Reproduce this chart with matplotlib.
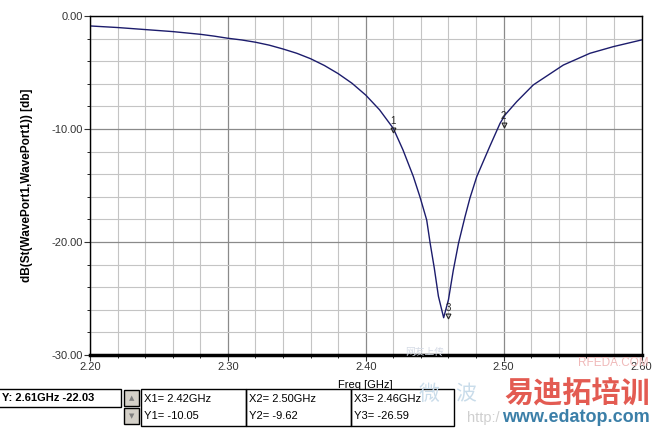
import matplotlib
matplotlib.use("Agg")
import matplotlib.pyplot as plt
from matplotlib.patches import Rectangle
from matplotlib.ticker import MultipleLocator, FormatStrFormatter

plt.rcParams['font.family'] = ['Liberation Sans', 'Noto Sans CJK SC', 'DejaVu Sans']

# S11 curve
freq = [2.20, 2.22, 2.24, 2.26, 2.28, 2.29, 2.30, 2.31, 2.32, 2.33, 2.34, 2.35,
        2.36, 2.37, 2.38, 2.39, 2.40, 2.41, 2.42, 2.427, 2.4345, 2.4393, 2.4442,
        2.4467, 2.4497, 2.4527, 2.4565, 2.460, 2.4635, 2.4673, 2.472, 2.4756,
        2.4805, 2.4855, 2.4901, 2.4974, 2.501, 2.5095, 2.5215, 2.5433, 2.5626,
        2.5796, 2.60]
s11_db = [-0.88, -1.02, -1.20, -1.38, -1.62, -1.78, -1.97, -2.12, -2.32, -2.58,
          -2.92, -3.30, -3.78, -4.38, -5.10, -5.95, -7.00, -8.30, -9.95, -11.85,
          -14.2, -16.0, -18.05, -20.1, -22.3, -24.8, -26.7, -25.1, -22.5, -20.1,
          -17.76, -16.1, -14.22, -12.8, -11.5, -9.5, -8.76, -7.58, -6.1, -4.34,
          -3.3, -2.71, -2.12]

# markers
mk_names = ['1', '2', '3']
mk_freq = [2.42, 2.50, 2.46]
mk_db = [-10.05, -9.62, -26.59]
cursor_text = 'Y: 2.61GHz -22.03'

W, H = 657, 429
fig = plt.figure(figsize=(W / 100, H / 100), dpi=100)
fig.patch.set_facecolor('white')


def fx(px):
    return px / W


def fy(py):
    return 1 - py / H


ax = fig.add_axes([fx(90), fy(355), (641.5 - 90) / W, (355 - 16) / H])
ax.plot(freq, s11_db, color='#1c1c6c', lw=1.0)

for name, f, d in zip(mk_names, mk_freq, mk_db):
    ax.plot(f, d, marker='v', ms=3.5, mfc='none', mec='#222222', mew=0.8)
    ax.text(f, d + 0.35, name, fontsize=7, ha='center', va='bottom', color='#222222')

ax.set_xlim(2.20, 2.60)
ax.set_ylim(-30, 0)
ax.xaxis.set_major_locator(MultipleLocator(0.1))
ax.xaxis.set_minor_locator(MultipleLocator(0.02))
ax.yaxis.set_major_locator(MultipleLocator(10))
ax.yaxis.set_minor_locator(MultipleLocator(2))
ax.xaxis.set_major_formatter(FormatStrFormatter('%.2f'))
ax.yaxis.set_major_formatter(FormatStrFormatter('%.2f'))
ax.grid(which='major', color='#8a8a8a', lw=0.9)
ax.grid(which='minor', color='#c4c4c4', lw=0.8)
ax.set_axisbelow(True)
ax.tick_params(which='major', direction='out', length=4, width=0.8,
               labelsize=8, colors='#333333', pad=1)
ax.tick_params(which='minor', direction='out', length=2, width=0.6)
for s in ax.spines.values():
    s.set_linewidth(1.0)
ax.spines['bottom'].set_linewidth(2.5)

ax.set_xlabel('Freq [GHz]', fontsize=8)
ax.xaxis.set_label_coords(0.5, -0.075)
ax.set_ylabel('dB(St(WavePort1,WavePort1)) [db]', fontsize=8.5, fontweight='bold')
ax.yaxis.set_label_coords(-0.103, 0.5)


def box(x0, y0, x1, y1, fc='none'):
    fig.add_artist(Rectangle((fx(x0), fy(y1)), (x1 - x0) / W, (y1 - y0) / H,
                             transform=fig.transFigure, fc=fc, ec='black', lw=1))


# marker read-out panel
box(-2, 389, 121, 407)
fig.text(fx(2), fy(398), cursor_text, fontsize=8, fontweight='bold', va='center')

box(124, 390, 139, 406, fc='#d4d0c8')
box(124, 408, 139, 424, fc='#d4d0c8')
fig.text(fx(131.5), fy(398), '▲', fontsize=5, color='#808080', ha='center', va='center',
         family='DejaVu Sans')
fig.text(fx(131.5), fy(416), '▼', fontsize=5, color='#808080', ha='center', va='center',
         family='DejaVu Sans')

panel_x = [141, 246, 351]
panel_w = [105, 105, 103]
for i, x0 in enumerate(panel_x):
    box(x0, 389, x0 + panel_w[i], 426)
    fig.text(fx(x0 + 3), fy(399), 'X%s= %.2fGHz' % (mk_names[i], mk_freq[i]),
             fontsize=8, va='center')
    fig.text(fx(x0 + 3), fy(416), 'Y%s= %.2f' % (mk_names[i], mk_db[i]),
             fontsize=8, va='center')

# watermark
fig.text(fx(429), fy(394), '微', fontsize=15, color='#c9dcea', ha='center',
         va='center', family=['Noto Sans CJK SC'])
fig.text(fx(466), fy(394), '波', fontsize=15, color='#c9dcea', ha='center',
         va='center', family=['Noto Sans CJK SC'])
fig.text(fx(577), fy(392), '易迪拓培训', fontsize=21, color='#e35b52', ha='center',
         va='center', fontweight='bold', family=['Noto Sans CJK SC'])
fig.text(fx(500), fy(418), 'http:/', fontsize=10.5, color='#cfcfcf', ha='right', va='center')
fig.text(fx(576), fy(418), 'www.edatop.com', fontsize=13, color='#3b7fa8', ha='center',
         va='center', fontweight='bold')
fig.text(fx(613), fy(363), 'RFEDA.COM', fontsize=8.5, color='#f0b9b9', ha='center',
         va='center')
fig.text(fx(425), fy(352), '网友上传', fontsize=7, color='#d5dbe6', ha='center',
         va='center', family=['Noto Sans CJK SC'])

fig.savefig('out.png', dpi=100)
